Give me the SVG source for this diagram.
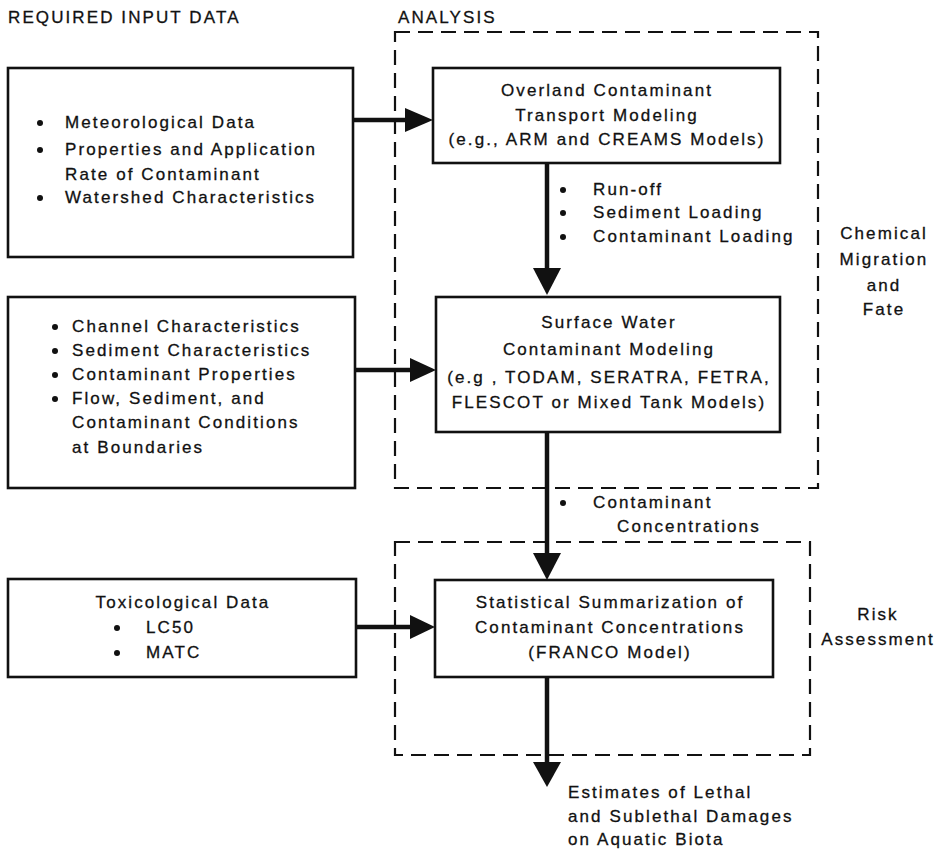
<svg xmlns="http://www.w3.org/2000/svg" width="952" height="853" viewBox="0 0 952 853">
<style>
text{font-family:"Liberation Sans",Arial,sans-serif;font-size:17px;letter-spacing:2.1px;fill:#111;stroke:#111;stroke-width:0.3}
.c{text-anchor:middle}
.box{fill:#fff;stroke:#111;stroke-width:2.6}
.dash{fill:none;stroke:#111;stroke-width:2.2;stroke-dasharray:15 8}
.shaft{stroke:#111;stroke-width:4.5;fill:none}
.head{fill:#111}
.dot{fill:#111}
</style>
<rect width="952" height="853" fill="#fff"/>
<g id="titles">
<text x="8" y="23">REQUIRED INPUT DATA</text>
<text x="398" y="23">ANALYSIS</text>
</g>
<g id="groups">
<rect id="analysis" class="dash" x="395" y="32" width="423" height="456"/>
<rect id="risk" class="dash" x="395" y="542" width="415" height="213"/>
<text class="c" x="884" y="239">Chemical</text>
<text class="c" x="884" y="265">Migration</text>
<text class="c" x="884" y="291">and</text>
<text class="c" x="884" y="315">Fate</text>
<text class="c" x="878" y="620">Risk</text>
<text class="c" x="878" y="645">Assessment</text>
</g>
<g id="connectors">
<line class="shaft" x1="353" y1="120" x2="408" y2="120"/>
<polygon class="head" points="405,108 433,120 405,132"/>
<line class="shaft" x1="547" y1="163" x2="547" y2="271"/>
<polygon class="head" points="533,268 547,295 561,268"/>
<line class="shaft" x1="355" y1="370" x2="413" y2="370"/>
<polygon class="head" points="410,358 436,370 410,382"/>
<line class="shaft" x1="547" y1="432" x2="547" y2="556"/>
<polygon class="head" points="533,553 547,580 561,553"/>
<line class="shaft" x1="356" y1="627" x2="413" y2="627"/>
<polygon class="head" points="410,615 435,627 410,639"/>
<line class="shaft" x1="547" y1="677" x2="547" y2="765"/>
<polygon class="head" points="533,762 547,787 561,762"/>
<circle class="dot" cx="563" cy="190" r="3"/>
<text x="593" y="195">Run-off</text>
<circle class="dot" cx="563" cy="213" r="3"/>
<text x="593" y="218">Sediment Loading</text>
<circle class="dot" cx="563" cy="237" r="3"/>
<text x="593" y="242">Contaminant Loading</text>
<circle class="dot" cx="563" cy="503" r="3"/>
<text x="593" y="508">Contaminant</text>
<text x="617" y="532">Concentrations</text>
<text x="568" y="798">Estimates of Lethal</text>
<text x="568" y="822">and Sublethal Damages</text>
<text x="568" y="845">on Aquatic Biota</text>
</g>
<g id="input1">
<rect class="box" x="8" y="68" width="345" height="189"/>
<circle class="dot" cx="40" cy="123" r="3"/>
<text x="65" y="128">Meteorological Data</text>
<circle class="dot" cx="40" cy="150" r="3"/>
<text x="65" y="155">Properties and Application</text>
<text x="65" y="180">Rate of Contaminant</text>
<circle class="dot" cx="40" cy="198" r="3"/>
<text x="65" y="203">Watershed Characteristics</text>
</g>
<g id="overland">
<rect class="box" x="433" y="68" width="347" height="95"/>
<text class="c" x="607" y="96">Overland Contaminant</text>
<text class="c" x="607" y="121">Transport Modeling</text>
<text class="c" x="607" y="145">(e.g., ARM and CREAMS Models)</text>
</g>
<g id="input2">
<rect class="box" x="8" y="297" width="347" height="191"/>
<circle class="dot" cx="55" cy="327" r="3"/>
<text x="72" y="332">Channel Characteristics</text>
<circle class="dot" cx="55" cy="351" r="3"/>
<text x="72" y="356">Sediment Characteristics</text>
<circle class="dot" cx="55" cy="375" r="3"/>
<text x="72" y="380">Contaminant Properties</text>
<circle class="dot" cx="55" cy="399" r="3"/>
<text x="72" y="404">Flow, Sediment, and</text>
<text x="72" y="428">Contaminant Conditions</text>
<text x="72" y="453">at Boundaries</text>
</g>
<g id="surface">
<rect class="box" x="436" y="297" width="344" height="135"/>
<text class="c" x="609" y="328">Surface Water</text>
<text class="c" x="609" y="355">Contaminant Modeling</text>
<text class="c" x="609" y="383">(e.g , TODAM, SERATRA, FETRA,</text>
<text class="c" x="609" y="408">FLESCOT or Mixed Tank Models)</text>
</g>
<g id="toxic">
<rect class="box" x="8" y="579" width="348" height="98"/>
<text class="c" x="183" y="608">Toxicological Data</text>
<circle class="dot" cx="117" cy="628" r="3"/>
<text x="146" y="633">LC50</text>
<circle class="dot" cx="117" cy="653" r="3"/>
<text x="146" y="658">MATC</text>
</g>
<g id="stat">
<rect class="box" x="435" y="580" width="338" height="97"/>
<text class="c" x="610" y="608">Statistical Summarization of</text>
<text class="c" x="610" y="633">Contaminant Concentrations</text>
<text class="c" x="610" y="658">(FRANCO Model)</text>
</g>
</svg>
